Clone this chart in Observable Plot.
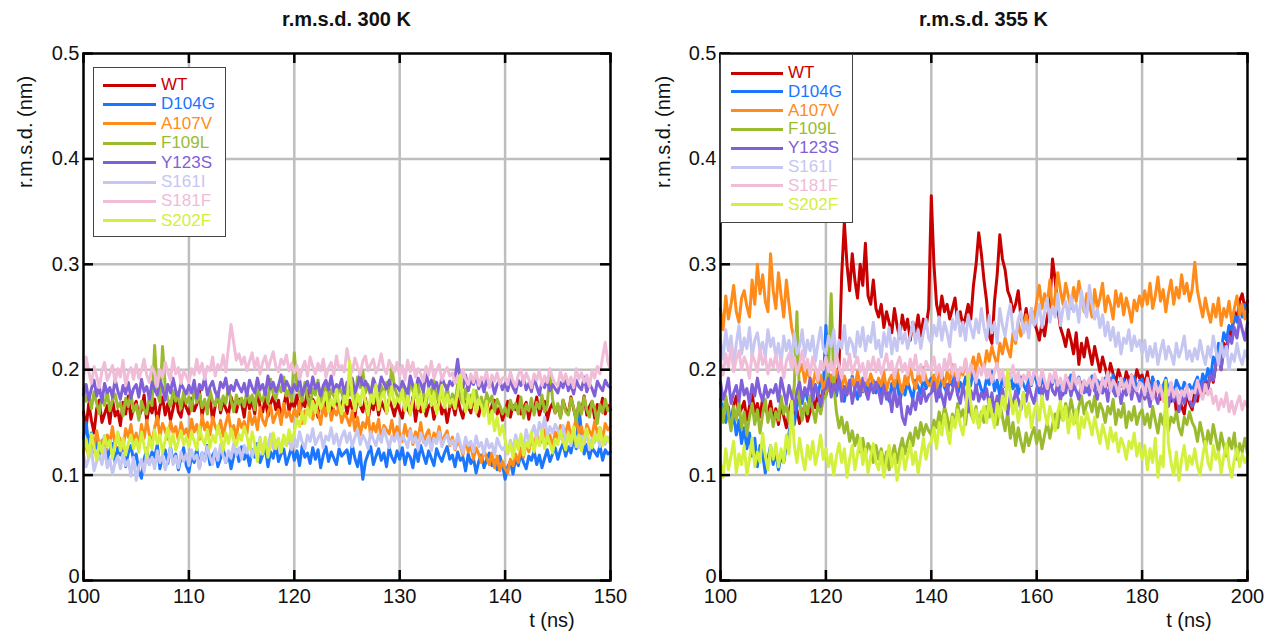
<!DOCTYPE html>
<html><head><meta charset="utf-8">
<script src="https://cdn.jsdelivr.net/npm/d3@7"></script>
<script src="https://cdn.jsdelivr.net/npm/@observablehq/plot@0.6"></script>
<style>
body{margin:0;background:#fff;font-family:"Liberation Sans",Arial,sans-serif;}
#wrap{position:relative;width:1264px;height:632px;overflow:hidden;background:#fff;}
.panel{position:absolute;top:0;}
.title{position:absolute;font-weight:bold;font-size:20px;transform:translate(-50%,-50%);white-space:nowrap;color:#111;}
.ylab{position:absolute;font-size:20px;transform:translate(-50%,-50%) rotate(-90deg);white-space:nowrap;color:#111;}
.xlab{position:absolute;font-size:20px;transform:translate(-50%,-50%);white-space:nowrap;color:#111;}
.legend{position:absolute;background:#fff;border:1.5px solid #444;box-sizing:border-box;}
.legend .row{position:absolute;left:0;height:0;}
.legend .sw{position:absolute;height:3px;margin-top:-1.5px;}
.legend .lb{position:absolute;font-size:17px;line-height:17px;margin-top:-9px;white-space:nowrap;}
</style></head><body><div id="wrap"></div>
<script>
// ---- categories / styling keys ----
const seriesNames = ["WT","D104G","A107V","F109L","Y123S","S161I","S181F","S202F"];
const seriesColors = ["#c80000","#1a75ff","#ff8c1a","#9bbb2e","#8060d8","#c6c6f2","#f0bcd8","#d2f03c"];
const xTicks300 = [100,110,120,130,140,150];
const xTicks355 = [100,120,140,160,180,200];
const yTicks = [0,0.1,0.2,0.3,0.4,0.5];
const tRange300 = [100,150];   // samples every 0.25 ns
const tRange355 = [100,200];   // samples every 0.5 ns

// ---- 300 K series ----
const wt300 = [.160,.145,.168,.152,.140,.163,.171,.150,.158,.166,.149,.172,.156,.161,.147,.169,.158,.175,.153,.164,
 .170,.155,.162,.176,.151,.166,.159,.172,.148,.165,.174,.157,.168,.152,.163,.177,.160,.155,.171,.164,
 .158,.173,.161,.167,.180,.156,.169,.162,.175,.151,.166,.178,.159,.170,.163,.157,.174,.165,.160,.172,
 .168,.155,.176,.163,.170,.158,.181,.165,.160,.173,.156,.168,.175,.162,.171,.153,.166,.178,.161,.169,
 .164,.176,.158,.170,.165,.180,.159,.172,.167,.155,.174,.162,.169,.178,.157,.166,.173,.160,.168,.175,
 .158,.171,.163,.155,.176,.166,.160,.173,.152,.168,.162,.175,.157,.170,.164,.159,.172,.165,.156,.169,
 .161,.154,.170,.163,.158,.174,.151,.167,.160,.172,.156,.165,.169,.153,.163,.171,.158,.166,.150,.164,
 .168,.157,.173,.162,.154,.170,.165,.159,.176,.161,.156,.169,.163,.172,.155,.166,.171,.158,.164,.152,
 .160,.170,.155,.166,.162,.175,.158,.164,.169,.153,.167,.161,.174,.157,.165,.170,.152,.163,.168,.159,
 .166,.155,.171,.162,.158,.174,.163,.152,.168,.160,.175,.157,.165,.170,.154,.167,.161,.173,.158,.166,.162];
const d104g300 = [.135,.150,.128,.140,.122,.132,.118,.127,.137,.115,.124,.130,.112,.126,.119,.133,.108,.121,.128,.114,
 .120,.104,.097,.115,.125,.110,.122,.117,.129,.106,.118,.124,.111,.127,.113,.120,.105,.116,.126,.109,
 .103,.118,.112,.125,.107,.121,.114,.128,.110,.119,.123,.108,.116,.126,.112,.120,.106,.118,.124,.113,
 .127,.115,.121,.109,.124,.117,.130,.112,.119,.126,.108,.122,.116,.129,.113,.120,.125,.110,.118,.127,
 .114,.123,.109,.128,.117,.121,.111,.126,.115,.124,.107,.119,.127,.113,.122,.116,.110,.125,.118,.121,
 .124,.111,.129,.116,.108,.122,.096,.113,.120,.127,.110,.118,.125,.114,.121,.108,.126,.117,.112,.123,
 .115,.126,.110,.121,.117,.107,.124,.113,.128,.119,.111,.123,.116,.109,.125,.118,.113,.121,.127,.115,
 .119,.108,.122,.114,.117,.104,.120,.111,.116,.102,.113,.119,.107,.115,.121,.109,.114,.105,.118,.110,
 .096,.108,.113,.101,.117,.109,.120,.112,.106,.118,.114,.123,.110,.119,.107,.116,.124,.113,.120,.126,
 .115,.124,.130,.118,.127,.121,.135,.125,.165,.140,.120,.129,.116,.126,.122,.118,.128,.114,.124,.120,.122];
const a107v300 = [.122,.130,.117,.136,.125,.142,.128,.133,.120,.138,.131,.146,.127,.139,.133,.125,.144,.136,.148,.130,
 .140,.127,.148,.135,.152,.138,.131,.145,.156,.137,.149,.142,.134,.151,.140,.146,.133,.150,.139,.144,
 .136,.153,.141,.148,.134,.157,.143,.150,.138,.155,.146,.140,.152,.137,.149,.158,.142,.147,.135,.153,
 .145,.151,.139,.160,.148,.156,.143,.164,.152,.147,.159,.166,.150,.157,.162,.148,.168,.155,.160,.151,
 .163,.155,.170,.149,.161,.158,.172,.153,.165,.160,.148,.167,.156,.171,.152,.162,.157,.166,.150,.159,
 .154,.147,.161,.142,.155,.138,.150,.145,.158,.136,.149,.141,.153,.134,.147,.143,.139,.152,.137,.146,
 .140,.132,.148,.137,.144,.129,.141,.135,.150,.131,.138,.143,.127,.140,.134,.146,.130,.137,.142,.128,
 .136,.124,.132,.128,.119,.134,.122,.129,.115,.126,.120,.112,.124,.116,.110,.121,.107,.118,.104,.113,
 .106,.102,.115,.109,.120,.112,.126,.117,.131,.122,.136,.125,.140,.129,.134,.143,.130,.138,.126,.141,
 .135,.147,.132,.141,.150,.136,.144,.153,.139,.146,.131,.148,.142,.137,.151,.140,.145,.134,.149,.143,.146];
const f109l300 = [.182,.170,.176,.163,.179,.168,.158,.174,.166,.180,.161,.171,.177,.164,.169,.156,.173,.165,.178,.160,
 .167,.152,.170,.162,.158,.175,.166,.223,.178,.169,.222,.184,.172,.165,.180,.170,.176,.163,.179,.168,
 .174,.161,.183,.169,.177,.164,.172,.158,.181,.170,.166,.179,.162,.175,.168,.184,.171,.160,.176,.167,
 .173,.165,.180,.169,.176,.162,.186,.174,.170,.182,.168,.191,.177,.172,.185,.179,.193,.175,.181,.170,
 .216,.185,.177,.170,.188,.173,.165,.182,.176,.190,.168,.179,.186,.172,.181,.175,.170,.184,.178,.169,
 .182,.176,.189,.171,.193,.183,.199,.178,.186,.174,.192,.181,.170,.185,.177,.188,.175,.204,.183,.176,
 .171,.184,.176,.168,.189,.180,.174,.186,.170,.179,.166,.183,.177,.190,.172,.181,.175,.169,.185,.165,
 .177,.170,.186,.173,.168,.182,.164,.176,.171,.180,.167,.174,.162,.178,.169,.175,.160,.172,.166,.158,
 .164,.156,.171,.162,.168,.158,.174,.154,.167,.161,.173,.157,.169,.163,.176,.160,.166,.200,.172,.159,
 .168,.154,.171,.160,.157,.173,.164,.151,.169,.158,.174,.162,.155,.170,.163,.149,.167,.159,.172,.161,.164];
const y123s300 = [.176,.186,.171,.182,.190,.175,.184,.169,.187,.178,.183,.174,.191,.180,.172,.185,.177,.188,.173,.182,
 .186,.174,.191,.179,.184,.172,.188,.181,.176,.190,.183,.171,.186,.178,.192,.180,.175,.187,.182,.177,
 .185,.178,.190,.173,.186,.181,.193,.176,.184,.189,.179,.174,.188,.183,.192,.177,.185,.180,.190,.184,
 .179,.187,.175,.190,.183,.178,.192,.181,.186,.176,.194,.182,.188,.179,.185,.195,.180,.189,.184,.178,
 .186,.180,.191,.176,.184,.189,.178,.193,.182,.187,.175,.185,.190,.181,.194,.179,.186,.183,.191,.177,
 .188,.183,.192,.178,.186,.196,.181,.189,.184,.177,.191,.185,.180,.193,.187,.182,.190,.179,.186,.184,
 .180,.189,.183,.177,.194,.185,.181,.192,.187,.179,.198,.184,.190,.182,.188,.178,.193,.186,.181,.189,
 .185,.192,.210,.188,.183,.195,.180,.190,.186,.194,.182,.189,.179,.191,.184,.188,.177,.186,.190,.181,
 .187,.180,.191,.183,.178,.190,.185,.193,.181,.187,.179,.192,.184,.176,.189,.183,.191,.180,.186,.182,
 .178,.188,.183,.192,.180,.186,.177,.190,.184,.181,.193,.179,.187,.182,.175,.189,.184,.180,.190,.185,.183];
const s161i300 = [.120,.108,.116,.124,.104,.113,.119,.110,.126,.107,.115,.101,.112,.118,.106,.121,.109,.114,.099,.117,
 .095,.108,.115,.103,.121,.110,.117,.106,.123,.112,.119,.105,.114,.125,.110,.118,.107,.122,.113,.120,
 .109,.124,.115,.119,.106,.121,.113,.127,.117,.110,.125,.114,.129,.118,.112,.123,.116,.130,.119,.126,
 .115,.128,.121,.133,.117,.126,.124,.136,.120,.131,.127,.139,.125,.133,.129,.122,.137,.128,.134,.124,
 .136,.127,.141,.131,.125,.138,.132,.144,.129,.135,.140,.126,.137,.133,.145,.130,.139,.127,.136,.142,
 .131,.140,.127,.136,.143,.129,.138,.133,.125,.141,.134,.128,.139,.131,.144,.135,.126,.137,.132,.140,
 .129,.138,.133,.126,.142,.131,.136,.124,.140,.132,.128,.137,.123,.135,.130,.141,.127,.134,.138,.129,
 .133,.125,.139,.130,.121,.136,.128,.132,.122,.137,.127,.131,.120,.134,.126,.130,.119,.135,.128,.124,
 .127,.120,.133,.124,.138,.129,.135,.126,.143,.132,.139,.147,.134,.150,.141,.155,.137,.146,.140,.148,
 .143,.135,.147,.132,.139,.128,.141,.134,.126,.137,.130,.140,.124,.135,.131,.138,.127,.133,.129,.136,.130];
const s181f300 = [.192,.212,.198,.187,.203,.194,.183,.199,.207,.190,.196,.204,.188,.201,.193,.209,.185,.197,.202,.191,
 .205,.192,.199,.210,.195,.188,.203,.197,.184,.200,.193,.207,.198,.190,.211,.196,.202,.187,.199,.194,
 .188,.201,.195,.210,.197,.206,.191,.203,.199,.212,.194,.205,.200,.214,.198,.221,.243,.226,.209,.215,
 .205,.212,.199,.208,.216,.201,.211,.196,.207,.213,.200,.209,.217,.203,.198,.210,.205,.214,.199,.206,
 .197,.204,.191,.201,.208,.194,.212,.203,.196,.206,.199,.210,.193,.202,.207,.195,.213,.200,.204,.198,
 .220,.206,.198,.211,.203,.195,.208,.213,.199,.205,.210,.197,.204,.215,.201,.196,.209,.203,.198,.207,
 .194,.204,.190,.209,.198,.207,.193,.201,.196,.189,.203,.195,.208,.192,.199,.205,.190,.197,.202,.194,
 .197,.187,.194,.184,.200,.191,.186,.196,.188,.199,.185,.193,.190,.198,.183,.195,.189,.197,.186,.192,
 .193,.186,.198,.189,.184,.195,.200,.187,.197,.191,.183,.196,.190,.199,.185,.194,.188,.201,.192,.187,
 .185,.199,.189,.196,.186,.193,.183,.201,.191,.197,.188,.195,.184,.199,.192,.203,.196,.212,.226,.207,.200];
const s202f300 = [.124,.134,.118,.139,.126,.114,.131,.121,.137,.127,.133,.116,.129,.141,.123,.135,.119,.130,.138,.125,
 .134,.122,.141,.128,.117,.136,.125,.143,.130,.138,.121,.133,.145,.127,.139,.124,.132,.142,.129,.136,
 .127,.141,.132,.124,.146,.135,.129,.143,.126,.138,.131,.147,.136,.123,.140,.130,.144,.133,.128,.139,
 .133,.146,.137,.125,.141,.129,.113,.134,.120,.136,.117,.129,.140,.125,.135,.122,.138,.128,.143,.132,
 .141,.153,.146,.160,.149,.164,.155,.170,.159,.174,.163,.169,.178,.160,.172,.165,.181,.168,.158,.175,
 .167,.208,.175,.161,.177,.166,.183,.170,.157,.176,.168,.186,.162,.174,.179,.159,.171,.184,.165,.173,
 .169,.181,.161,.175,.157,.171,.186,.163,.177,.160,.173,.182,.166,.178,.158,.170,.185,.164,.176,.168,
 .172,.163,.179,.195,.170,.160,.176,.164,.181,.159,.172,.166,.156,.170,.149,.161,.142,.155,.138,.147,
 .134,.121,.130,.117,.133,.124,.139,.119,.131,.126,.141,.122,.135,.128,.143,.125,.137,.130,.121,.134,
 .129,.142,.133,.124,.140,.131,.146,.127,.138,.123,.135,.144,.130,.126,.139,.133,.145,.128,.137,.132,.135];

// ---- 355 K series ----
const wt355 = [.168,.155,.172,.160,.150,.166,.175,.158,.163,.170,.152,.165,.177,.160,.168,.155,.173,.162,.158,.170,
 .152,.163,.148,.167,.156,.145,.160,.170,.153,.162,.149,.158,.166,.151,.160,.172,.164,.178,.170,.182,
 .176,.188,.180,.195,.185,.205,.290,.340,.300,.275,.310,.285,.268,.300,.280,.320,.270,.262,.285,.258,
 .250,.262,.240,.255,.245,.235,.258,.242,.230,.252,.238,.248,.228,.245,.236,.252,.232,.248,.240,.258,
 .365,.300,.262,.250,.270,.255,.262,.248,.258,.268,.245,.255,.242,.250,.262,.248,.280,.300,.330,.310,
 .285,.265,.232,.225,.265,.290,.328,.305,.295,.275,.268,.255,.262,.275,.250,.242,.258,.240,.252,.245,
 .238,.228,.245,.232,.250,.262,.305,.285,.258,.240,.232,.222,.238,.228,.215,.235,.205,.225,.212,.230,
 .218,.205,.222,.210,.198,.212,.202,.192,.206,.196,.188,.200,.192,.185,.198,.190,.195,.186,.200,.192,
 .195,.185,.198,.180,.192,.176,.188,.172,.185,.165,.180,.170,.182,.160,.175,.165,.158,.178,.168,.162,
 .180,.170,.188,.175,.192,.182,.198,.188,.205,.212,.200,.225,.218,.240,.232,.255,.248,.265,.272,.258,.265];
const d104g355 = [.172,.160,.150,.165,.145,.158,.138,.152,.130,.145,.125,.140,.118,.135,.108,.128,.120,.102,.115,.128,
 .110,.122,.105,.118,.112,.128,.140,.155,.148,.165,.175,.168,.182,.172,.165,.180,.186,.175,.190,.182,
 .242,.195,.180,.188,.175,.192,.182,.170,.186,.178,.194,.181,.172,.188,.179,.193,.176,.185,.190,.178,
 .186,.175,.192,.180,.170,.187,.178,.194,.168,.183,.176,.189,.180,.172,.190,.184,.177,.192,.182,.188,
 .192,.180,.187,.174,.196,.183,.178,.190,.185,.198,.176,.188,.182,.193,.179,.186,.200,.184,.190,.181,
 .178,.192,.186,.198,.180,.190,.175,.194,.184,.188,.196,.182,.189,.177,.193,.186,.180,.191,.185,.197,
 .188,.178,.194,.184,.180,.192,.186,.198,.182,.189,.176,.191,.185,.195,.181,.188,.193,.183,.187,.179,
 .186,.194,.180,.190,.184,.178,.192,.186,.182,.195,.179,.188,.184,.191,.176,.187,.183,.193,.181,.189,
 .191,.180,.186,.176,.193,.183,.189,.178,.185,.192,.181,.187,.175,.190,.184,.179,.188,.182,.186,.180,
 .187,.193,.181,.196,.189,.201,.192,.212,.205,.225,.218,.235,.228,.242,.238,.252,.245,.258,.250,.262,.255];
const a107v355 = [.258,.238,.270,.248,.262,.280,.255,.245,.268,.275,.260,.250,.285,.262,.300,.272,.290,.265,.255,.310,
 .275,.258,.292,.270,.250,.285,.262,.240,.228,.210,.198,.205,.188,.200,.192,.185,.198,.188,.195,.182,
 .190,.180,.195,.186,.200,.188,.182,.194,.185,.178,.192,.184,.198,.187,.180,.193,.185,.196,.188,.183,
 .192,.185,.198,.180,.190,.195,.183,.200,.188,.178,.194,.186,.205,.190,.182,.196,.188,.202,.192,.185,
 .186,.195,.182,.200,.190,.185,.198,.188,.205,.192,.184,.200,.195,.210,.190,.202,.212,.198,.215,.205,
 .200,.218,.208,.222,.212,.205,.225,.215,.230,.220,.212,.235,.225,.245,.232,.240,.252,.238,.258,.248,
 .265,.280,.258,.272,.262,.285,.255,.270,.292,.275,.262,.282,.270,.258,.278,.265,.284,.268,.255,.272,
 .262,.250,.276,.258,.268,.282,.255,.270,.262,.248,.275,.260,.272,.252,.268,.258,.245,.266,.256,.270,
 .260,.275,.262,.282,.258,.270,.288,.265,.276,.255,.272,.285,.262,.278,.268,.290,.272,.282,.265,.276,
 .302,.275,.262,.250,.268,.255,.245,.262,.250,.268,.242,.258,.250,.265,.245,.258,.270,.252,.262,.248,.258];
const f109l355 = [.168,.150,.175,.158,.142,.165,.152,.170,.145,.160,.138,.155,.168,.148,.162,.140,.158,.172,.150,.163,
 .146,.160,.152,.175,.158,.168,.150,.165,.185,.255,.170,.152,.168,.158,.175,.162,.150,.168,.158,.172,
 .175,.200,.272,.185,.160,.145,.155,.140,.150,.132,.142,.128,.138,.122,.135,.118,.130,.125,.112,.128,
 .115,.125,.110,.122,.105,.118,.128,.112,.125,.135,.120,.132,.140,.128,.145,.135,.150,.138,.148,.142,
 .138,.152,.145,.160,.148,.165,.155,.142,.158,.150,.168,.155,.162,.148,.170,.158,.152,.165,.145,.160,
 .150,.165,.155,.172,.160,.148,.168,.155,.142,.160,.135,.150,.128,.145,.132,.122,.140,.128,.138,.145,
 .130,.142,.125,.138,.150,.135,.148,.158,.145,.162,.152,.168,.155,.172,.160,.150,.165,.175,.158,.168,
 .170,.160,.175,.155,.168,.162,.150,.165,.158,.172,.148,.162,.155,.168,.145,.160,.152,.165,.148,.158,
 .162,.148,.158,.145,.165,.152,.140,.158,.148,.162,.142,.155,.150,.160,.145,.138,.155,.148,.160,.150,
 .145,.132,.150,.138,.125,.142,.130,.148,.135,.122,.140,.128,.118,.135,.125,.140,.115,.130,.122,.135,.120];
const y123s355 = [.188,.172,.180,.192,.168,.178,.185,.170,.190,.176,.182,.168,.186,.175,.192,.178,.170,.185,.174,.181,
 .178,.186,.170,.192,.180,.168,.185,.175,.162,.180,.188,.172,.183,.176,.192,.170,.185,.178,.165,.180,
 .182,.192,.174,.186,.178,.195,.170,.184,.176,.190,.168,.182,.188,.175,.192,.180,.172,.186,.178,.188,
 .180,.168,.185,.172,.178,.160,.182,.165,.175,.155,.148,.165,.158,.172,.162,.178,.168,.182,.170,.176,
 .178,.188,.170,.182,.175,.165,.186,.172,.180,.192,.176,.168,.185,.174,.160,.180,.172,.186,.170,.178,
 .172,.182,.165,.178,.160,.175,.168,.182,.170,.158,.176,.165,.180,.172,.162,.178,.170,.185,.175,.168,
 .182,.190,.175,.186,.172,.192,.180,.176,.188,.170,.184,.178,.192,.175,.186,.180,.172,.188,.178,.185,
 .176,.190,.182,.172,.188,.178,.185,.170,.192,.180,.175,.186,.168,.182,.176,.190,.172,.184,.178,.170,
 .182,.172,.178,.165,.184,.175,.168,.182,.172,.188,.165,.178,.170,.182,.160,.175,.168,.180,.172,.165,
 .170,.182,.176,.188,.178,.185,.195,.190,.205,.212,.200,.222,.215,.232,.225,.240,.230,.248,.238,.228,.245];
const s161i355 = [.228,.210,.238,.218,.232,.205,.225,.242,.215,.230,.220,.240,.212,.228,.235,.218,.226,.212,.238,.222,
 .230,.212,.225,.205,.232,.218,.228,.210,.235,.215,.222,.238,.212,.228,.218,.232,.208,.225,.240,.220,
 .215,.232,.222,.238,.210,.228,.220,.242,.215,.230,.225,.212,.236,.222,.240,.218,.232,.226,.245,.220,
 .228,.212,.235,.222,.240,.215,.230,.218,.242,.225,.235,.220,.232,.245,.225,.238,.220,.235,.248,.230,
 .225,.242,.232,.250,.228,.245,.235,.222,.248,.238,.255,.232,.245,.228,.252,.240,.230,.248,.235,.258,
 .240,.228,.252,.235,.245,.225,.258,.242,.232,.250,.262,.238,.228,.248,.255,.235,.245,.230,.258,.242,
 .248,.262,.240,.255,.268,.245,.260,.250,.272,.242,.258,.265,.248,.270,.255,.262,.245,.275,.258,.250,
 .280,.262,.248,.258,.240,.252,.232,.245,.228,.240,.222,.235,.215,.230,.225,.238,.218,.232,.222,.228,
 .215,.228,.208,.222,.212,.225,.205,.218,.228,.210,.222,.215,.205,.225,.212,.220,.232,.210,.218,.208,
 .220,.210,.228,.215,.205,.222,.212,.232,.218,.205,.225,.212,.222,.200,.215,.208,.225,.212,.205,.218,.210];
const s181f355 = [.208,.195,.215,.202,.222,.198,.210,.218,.200,.212,.205,.192,.215,.208,.198,.220,.205,.212,.196,.210,
 .202,.215,.198,.210,.192,.208,.215,.200,.212,.196,.205,.218,.200,.210,.195,.212,.202,.190,.208,.200,
 .212,.198,.208,.195,.215,.202,.192,.210,.200,.215,.196,.205,.212,.198,.206,.190,.208,.200,.212,.198,
 .210,.196,.205,.215,.200,.208,.192,.205,.212,.198,.206,.195,.210,.200,.214,.196,.205,.190,.208,.202,
 .200,.212,.195,.205,.192,.210,.200,.215,.196,.205,.190,.202,.198,.210,.192,.205,.198,.188,.202,.195,
 .205,.192,.200,.188,.198,.206,.190,.200,.185,.196,.192,.204,.188,.198,.184,.195,.190,.200,.186,.198,
 .195,.185,.200,.190,.182,.196,.188,.200,.185,.192,.180,.195,.188,.182,.198,.186,.192,.178,.190,.185,
 .192,.182,.196,.186,.178,.192,.184,.198,.180,.190,.185,.176,.192,.182,.188,.178,.195,.184,.180,.188,
 .186,.176,.192,.180,.172,.188,.178,.185,.170,.182,.176,.188,.174,.182,.168,.180,.175,.185,.172,.180,
 .178,.190,.180,.172,.186,.176,.182,.168,.175,.162,.172,.165,.178,.160,.170,.158,.168,.175,.162,.170,.165];
const s202f355 = [.112,.098,.125,.105,.118,.132,.102,.120,.110,.128,.100,.115,.135,.108,.122,.112,.140,.118,.105,.128,
 .115,.130,.108,.125,.112,.138,.120,.170,.128,.112,.135,.118,.105,.128,.115,.132,.110,.122,.138,.115,
 .125,.108,.120,.100,.118,.130,.112,.125,.098,.115,.128,.105,.120,.135,.110,.125,.102,.118,.130,.112,
 .105,.122,.098,.115,.128,.108,.120,.095,.112,.125,.105,.118,.130,.110,.122,.102,.118,.135,.115,.128,
 .132,.145,.125,.150,.138,.158,.142,.130,.155,.145,.162,.148,.138,.158,.195,.168,.150,.162,.145,.158,
 .165,.150,.172,.158,.145,.168,.155,.175,.162,.200,.175,.158,.170,.150,.165,.178,.155,.168,.145,.160,
 .168,.152,.175,.160,.148,.165,.155,.142,.160,.170,.152,.165,.140,.158,.148,.162,.135,.155,.145,.160,
 .150,.138,.155,.142,.130,.148,.138,.125,.145,.132,.140,.122,.135,.128,.115,.132,.125,.140,.118,.130,
 .115,.128,.105,.125,.112,.135,.098,.118,.108,.190,.130,.112,.100,.122,.095,.115,.128,.105,.118,.110,
 .125,.108,.100,.118,.132,.112,.105,.128,.115,.122,.102,.118,.130,.110,.098,.115,.125,.108,.120,.112,.118];

const values300 = [wt300,d104g300,a107v300,f109l300,y123s300,s161i300,s181f300,s202f300];
const values355 = [wt355,d104g355,a107v355,f109l355,y123s355,s161i355,s181f355,s202f355];

const W = 632, H = 632, FONT = '"Liberation Sans", Arial, sans-serif';
const wrap = document.getElementById("wrap");
const fmt = d => d === 0 ? "0" : String(d);

function panel(cfg) {
  const innerW = W - cfg.ml - cfg.mr, innerH = H - cfg.mt - cfg.mb;
  const marks = [
    Plot.gridX(cfg.xTicks.slice(1, -1), {stroke: "#bebebe", strokeOpacity: 1, strokeWidth: 2.5}),
    Plot.gridY(yTicks.slice(1, -1), {stroke: "#bebebe", strokeOpacity: 1, strokeWidth: 2.5})
  ];
  cfg.values.forEach((arr, k) => {
    const step = (cfg.tRange[1] - cfg.tRange[0]) / (arr.length - 1);
    const rows = arr.map((v, i) => ({t: cfg.tRange[0] + i * step, v}));
    marks.push(Plot.line(rows, {x: "t", y: "v", stroke: seriesColors[k], strokeWidth: 3, strokeLinejoin: "round"}));
  });
  marks.push(
    Plot.tickX(cfg.xTicks, {x: d => d, insetTop: innerH - 10, stroke: "#000", strokeWidth: 2.5}),
    Plot.tickX(cfg.xTicks, {x: d => d, insetBottom: innerH - 10, stroke: "#000", strokeWidth: 2.5}),
    Plot.tickY(yTicks, {y: d => d, insetRight: innerW - 10, stroke: "#000", strokeWidth: 2.5}),
    Plot.tickY(yTicks, {y: d => d, insetLeft: innerW - 10, stroke: "#000", strokeWidth: 2.5}),
    Plot.frame({stroke: "#000", strokeWidth: 2.5}),
    Plot.axisX(cfg.xTicks, {tickSize: 0, tickPadding: 8, fontSize: 20, label: null}),
    Plot.axisY(yTicks.slice(1), {tickSize: 0, tickPadding: 4, fontSize: 20, label: null, tickFormat: fmt}),
    Plot.axisY(yTicks.slice(0, 1), {tickSize: 0, tickPadding: 4, fontSize: 20, label: null, tickFormat: fmt, dy: -4})
  );
  const svg = Plot.plot({
    width: W, height: H,
    marginLeft: cfg.ml, marginRight: cfg.mr, marginTop: cfg.mt, marginBottom: cfg.mb,
    x: {domain: cfg.tRange},
    y: {domain: [0, 0.5]},
    style: {fontFamily: FONT, fontSize: "20px", color: "#111", background: "transparent", overflow: "visible"},
    marks
  });
  const holder = document.createElement("div");
  holder.className = "panel";
  holder.style.left = cfg.left + "px";
  holder.appendChild(svg);
  wrap.appendChild(holder);

  const title = document.createElement("div");
  title.className = "title";
  title.textContent = cfg.title;
  title.style.left = (cfg.left + cfg.ml + innerW / 2) + "px";
  title.style.top = "19px";
  wrap.appendChild(title);

  const yl = document.createElement("div");
  yl.className = "ylab";
  yl.textContent = "r.m.s.d. (nm)";
  yl.style.left = cfg.ylabX + "px";
  yl.style.top = "132px";
  wrap.appendChild(yl);

  const xl = document.createElement("div");
  xl.className = "xlab";
  xl.textContent = "t (ns)";
  xl.style.left = (cfg.left + cfg.ml + innerW - 58) + "px";
  xl.style.top = "620px";
  wrap.appendChild(xl);

  const lg = document.createElement("div");
  lg.className = "legend";
  Object.assign(lg.style, {left: cfg.lg.x + "px", top: cfg.lg.y + "px", width: cfg.lg.w + "px", height: cfg.lg.h + "px"});
  seriesNames.forEach((name, k) => {
    const row = document.createElement("div");
    row.className = "row";
    row.style.top = (cfg.lg.r0 + k * cfg.lg.dr) + "px";
    const sw = document.createElement("div");
    sw.className = "sw";
    Object.assign(sw.style, {left: cfg.lg.s0 + "px", width: (cfg.lg.s1 - cfg.lg.s0) + "px", background: seriesColors[k]});
    const lb = document.createElement("div");
    lb.className = "lb";
    lb.textContent = name;
    Object.assign(lb.style, {left: cfg.lg.tx + "px", color: seriesColors[k]});
    row.appendChild(sw); row.appendChild(lb);
    lg.appendChild(row);
  });
  wrap.appendChild(lg);
}

panel({left: 0, ml: 83, mr: 22, mt: 53, mb: 52, tRange: tRange300, xTicks: xTicks300,
  values: values300, title: "r.m.s.d. 300 K", ylabX: 25,
  lg: {x: 93, y: 67, w: 133, h: 170, r0: 17, dr: 19.4, s0: 9, s1: 62, tx: 67}});
panel({left: 632, ml: 88, mr: 17, mt: 53, mb: 52, tRange: tRange355, xTicks: xTicks355,
  values: values355, title: "r.m.s.d. 355 K", ylabX: 663,
  lg: {x: 720, y: 54, w: 133, h: 169, r0: 18, dr: 18.8, s0: 10, s1: 62, tx: 67}});
</script></body></html>
